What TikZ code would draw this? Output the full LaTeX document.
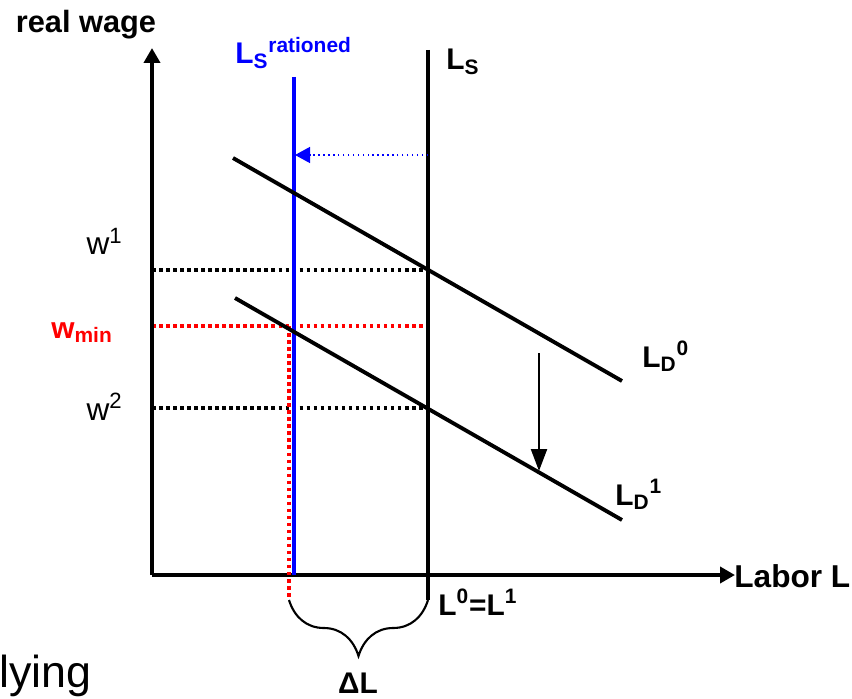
\documentclass[tikz,border=0pt]{standalone}
\usepackage{fontspec}
\setmainfont{Liberation Sans}
\usetikzlibrary{arrows.meta, positioning, decorations.pathreplacing}

\begin{document}
\begin{tikzpicture}[
  x=0.02cm, y=-0.02cm,
  axis/.style={line width=2.3pt, -{Triangle[length=0.3cm, width=0.32cm]}},
  curve/.style={line width=2.2pt},
  guide/.style={line width=2pt, dash pattern=on 2pt off 2pt},
  lab/.style={inner sep=0pt, font=\bfseries\fontsize{17}{20}\selectfont},
  wlab/.style={inner sep=0pt, font=\fontsize{18}{21}\selectfont},
  >=Latex
]
  \useasboundingbox (0,0) rectangle (852,699);

  % points of the chart
  \coordinate (o) at (152,575);
  \coordinate (ytop) at (152,48);
  \coordinate (xend) at (735,575);
  \coordinate (rtop) at (294,77);
  \coordinate (rbot) at (294,575);
  \coordinate (stop) at (428,50);
  \coordinate (sbot) at (428,600);
  \coordinate (d0a) at (233,158);
  \coordinate (d0b) at (622,381);
  \coordinate (d1a) at (235,298);
  \coordinate (d1b) at (622,520);
  \coordinate (w1l) at (152,270);
  \coordinate (w1r) at (428,270);
  \coordinate (wml) at (152,326);
  \coordinate (wmr) at (428,326);
  \coordinate (w2l) at (152,408);
  \coordinate (w2r) at (428,408);
  \coordinate (mtop) at (289,326);
  \coordinate (mbot) at (289,600);
  \coordinate (sh0) at (428,155);
  \coordinate (sh1) at (295,155);
  \coordinate (dn0) at (539,353);
  \coordinate (dn1) at (539,471);

  % guides
  \draw[guide] (w1l) -- (w1r);
  \draw[guide] (w2l) -- (w2r);
  \draw[guide, red] (wml) -- (wmr);

  % axes
  \draw[axis] (o) -- (ytop);
  \draw[axis] (o) -- (xend);

  % supply and demand
  \draw[line width=2.4pt, blue] (rtop) -- (rbot);
  \draw[guide, red] (mtop) -- (mbot);
  \draw[curve] (stop) -- (sbot);
  \draw[curve] (d0a) -- (d0b);
  \draw[curve] (d1a) -- (d1b);

  % shifts
  \draw[blue, line width=0.8pt, dotted, -{Triangle[length=0.3cm, width=0.32cm]}] (sh0) -- (sh1);
  \draw[line width=1.3pt, -{Triangle[length=0.44cm, width=0.32cm]}] (dn0) -- (dn1);

  % brace
  \draw[line width=1.2pt, decorate, decoration={brace, mirror, amplitude=1.12cm}] (mbot) -- (sbot);

  % labels
  \node[lab, font=\bfseries\fontsize{17.5}{20}\selectfont] (ylab) at (86,25) {real wage};
  \node[lab, font=\bfseries\fontsize{18}{21}\selectfont, anchor=base west] (xlab) at (734,587) {Labor L};
  \node[lab, blue, anchor=base west] (rlab) at (235,64) {L\textsubscript{S}\textsuperscript{rationed}};
  \node[lab, anchor=base west] (slab) at (446,70) {L\textsubscript{S}};
  \node[lab, anchor=base west] (d0lab) at (642,367) {L\textsubscript{D}\textsuperscript{0}};
  \node[lab, anchor=base west] (d1lab) at (615,505) {L\textsubscript{D}\textsuperscript{1}};
  \node[lab, anchor=base west] (eqlab) at (438,615) {L\textsuperscript{0}=L\textsuperscript{1}};
  \node[lab, anchor=base] (dlab) at (358,693) {ΔL};
  \node[wlab, anchor=base east] (w1lab) at (123,255) {w\textsuperscript{1}};
  \node[wlab, anchor=base east] (w2lab) at (123,420) {w\textsuperscript{2}};
  \node[lab, red, anchor=base east] (wmlab) at (113,338) {w\textsubscript{min}};
  \node[inner sep=0pt, anchor=base west, font=\fontsize{25.5}{30}\selectfont] (frag) at (-1,687) {lying};
\end{tikzpicture}
\end{document}
